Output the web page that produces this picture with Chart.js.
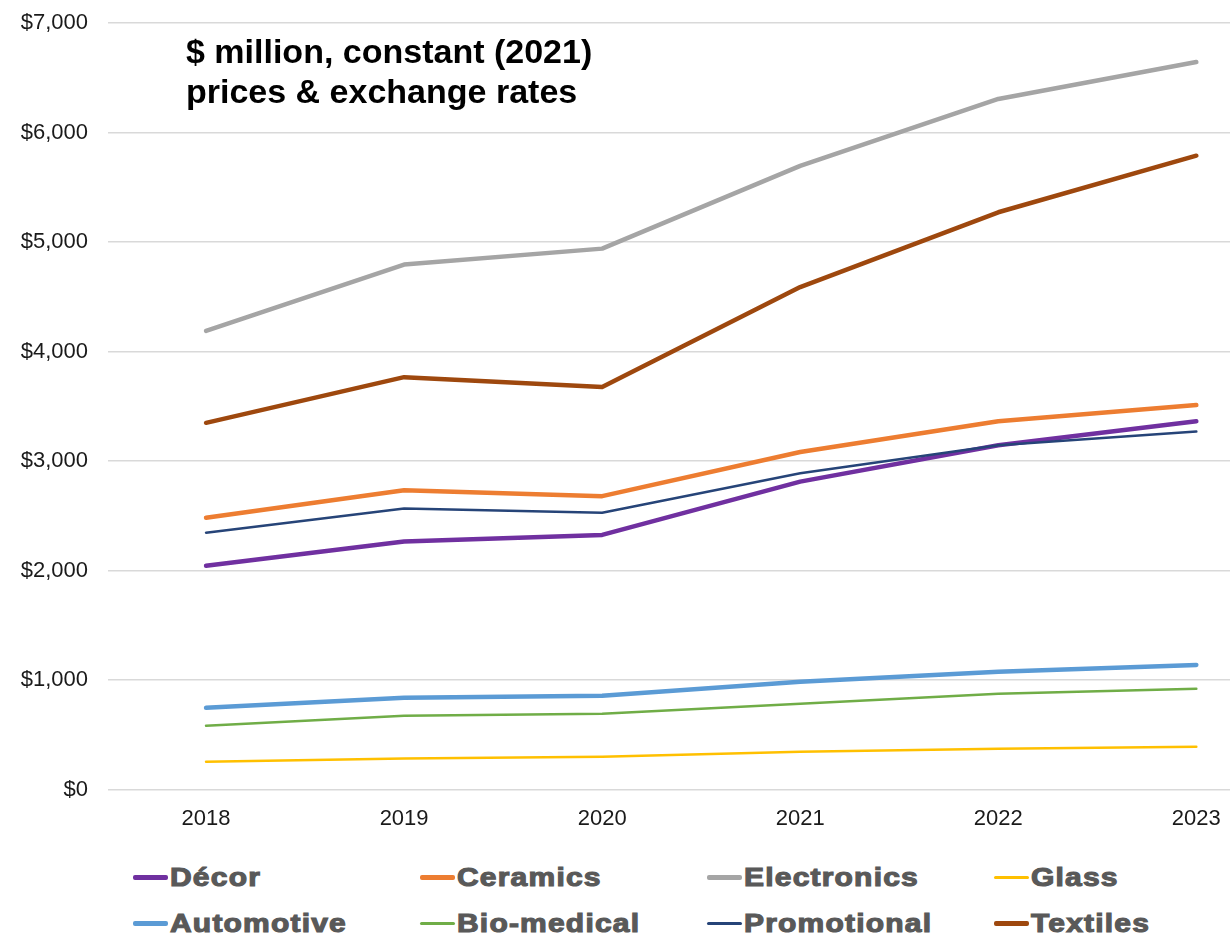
<!doctype html>
<html lang="en">
  <head>
    <meta charset="UTF-8" />
    <title>Sector values 2018-2023</title>
    <script src="https://cdn.jsdelivr.net/npm/chart.js"></script>
    <style>
      body { margin: 0; background: #fff; font-family: "Liberation Sans", Arial, sans-serif; overflow: hidden; }
      #wrap { position: relative; width: 1232px; height: 854px; }
      #chart { display: block; width: 1232px; height: 864px; margin-top: -10px; }
      #legend {
        position: absolute; left: 133px; top: 860px;
        display: grid; grid-template-columns: 287px 287px 287px 287px;
        row-gap: 12px;
      }
      .item { display: flex; align-items: center; height: 34px; }
      .mark { width: 35px; margin-right: 2px; border-radius: 2px; }
      .lbl {
        display: inline-block; font-weight: bold; font-size: 25px; color: #595959;
        letter-spacing: 1px; -webkit-text-stroke: 1.1px #595959;
        transform: scaleX(1.2); transform-origin: left center;
      }
    </style>
  </head>
  <body>
    <div id="wrap"><canvas id="chart" width="1232" height="864"></canvas></div>
    <div id="legend"></div>

    <script>
      const years = [2018, 2019, 2020, 2021, 2022, 2023];

      const decor = [2045, 2266, 2326, 2813, 3145, 3364];
      const ceramics = [2483, 2734, 2680, 3084, 3364, 3512];
      const electronics = [4190, 4795, 4941, 5697, 6308, 6645];
      const glass = [255, 283, 301, 346, 374, 392];
      const automotive = [747, 839, 857, 984, 1076, 1139];
      const biomedical = [583, 675, 693, 784, 875, 921];
      const promotional = [2347, 2568, 2529, 2889, 3145, 3271];
      const textiles = [3350, 3767, 3677, 4590, 5273, 5790];

      const yTicks = [0, 1000, 2000, 3000, 4000, 5000, 6000, 7000];
      const titleLines = ["$ million, constant (2021)", "prices & exchange rates"];

      const series = [
        { label: "Décor", data: decor, color: "#7030A0", width: 4.5 },
        { label: "Ceramics", data: ceramics, color: "#ED7D31", width: 4.5 },
        { label: "Electronics", data: electronics, color: "#A5A5A5", width: 4.5 },
        { label: "Glass", data: glass, color: "#FFC000", width: 2.5 },
        { label: "Automotive", data: automotive, color: "#5B9BD5", width: 4.5 },
        { label: "Bio-medical", data: biomedical, color: "#70AD47", width: 2.5 },
        { label: "Promotional", data: promotional, color: "#264478", width: 2.5 },
        { label: "Textiles", data: textiles, color: "#9E480E", width: 4.5 },
      ];

      const datasets = series.map((s) => ({
        label: s.label,
        data: s.data.map((v, j) => ({ x: years[j], y: v })),
        borderColor: s.color,
        backgroundColor: s.color,
        borderWidth: s.width,
        pointRadius: 0,
        tension: 0,
        borderCapStyle: "round",
        borderJoinStyle: "round",
        order: s.width < 3 ? 0 : 1,
      }));

      // canvas is shifted up 10px, so title coords are +10
      const titlePlugin = {
        id: "titleText",
        afterDraw(chart) {
          const ctx = chart.ctx;
          ctx.save();
          ctx.fillStyle = "#000";
          ctx.font = "bold 34px 'Liberation Sans', Arial, sans-serif";
          ctx.textBaseline = "alphabetic";
          ctx.fillText(titleLines[0], 186, 73);
          ctx.fillText(titleLines[1], 186, 113);
          ctx.restore();
        },
      };

      const tickFont = { size: 22, family: "'Liberation Sans', Arial, sans-serif" };

      const chart = new Chart(document.getElementById("chart"), {
        type: "line",
        data: { datasets: datasets },
        options: {
          responsive: false,
          maintainAspectRatio: false,
          animation: false,
          devicePixelRatio: 1,
          layout: { padding: { top: 9, right: 2, left: 0, bottom: 14 } },
          plugins: { legend: { display: false }, tooltip: { enabled: false } },
          scales: {
            x: {
              type: "linear",
              min: 2017.505,
              max: 2023.17,
              afterBuildTicks: (axis) => {
                axis.ticks = years.map((v) => ({ value: v }));
              },
              grid: { display: false },
              border: { display: false },
              ticks: {
                callback: (v) => String(v),
                color: "#1a1a1a",
                padding: 8,
                maxRotation: 0,
                font: tickFont,
              },
            },
            y: {
              min: 0,
              max: 7000,
              afterBuildTicks: (axis) => {
                axis.ticks = yTicks.map((v) => ({ value: v }));
              },
              afterFit: (axis) => {
                axis.width = 108;
              },
              grid: { color: "#d9d9d9", lineWidth: 1.5, drawTicks: false },
              border: { display: false },
              ticks: {
                callback: (v) => "$" + v.toLocaleString("en-US"),
                color: "#1a1a1a",
                padding: 20,
                font: tickFont,
              },
            },
          },
        },
        plugins: [titlePlugin],
      });

      const legend = document.getElementById("legend");
      series.forEach((s) => {
        const item = document.createElement("div");
        item.className = "item";
        item.innerHTML =
          '<span class="mark" style="background:' + s.color + ";height:" + (s.width < 3 ? 3 : 5) + 'px"></span>' +
          '<span class="lbl">' + s.label + "</span>";
        legend.appendChild(item);
      });
    </script>
  </body>
</html>
